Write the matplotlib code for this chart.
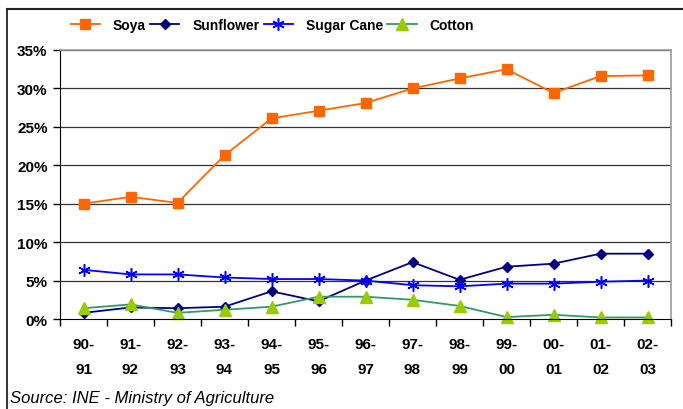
import matplotlib.pyplot as plt
from matplotlib.lines import Line2D
import numpy as np

plt.rcParams["font.family"] = ["Liberation Sans", "DejaVu Sans"]

seasons = ["90-\n91", "91-\n92", "92-\n93", "93-\n94", "94-\n95", "95-\n96", "96-\n97",
           "97-\n98", "98-\n99", "99-\n00", "00-\n01", "01-\n02", "02-\n03"]
soya = [15.0, 15.9, 15.1, 21.3, 26.1, 27.1, 28.1, 30.0, 31.3, 32.5, 29.4, 31.6, 31.7]
sunflower = [0.8, 1.5, 1.4, 1.6, 3.6, 2.3, 5.0, 7.4, 5.1, 6.8, 7.2, 8.5, 8.5]
sugar_cane = [6.4, 5.8, 5.8, 5.4, 5.2, 5.2, 5.0, 4.4, 4.25, 4.6, 4.6, 4.85, 5.0]
cotton = [1.4, 1.9, 0.8, 1.2, 1.6, 2.9, 2.9, 2.5, 1.7, 0.25, 0.55, 0.2, 0.2]

fig = plt.figure(figsize=(6.83, 4.10), dpi=100)
ax = fig.add_axes([60 / 683, 1 - 320 / 410, 611 / 683, 269 / 410])

x = np.arange(len(seasons))
ax.plot(x, soya, color="#FF6600", lw=1.3, marker="s", ms=6.5, mec="#FF6600",
        mfc="#FF6600", label="Soya", clip_on=False)
ax.plot(x, sunflower, color="#000080", lw=1.3, marker="D", ms=5, mec="#000080",
        mfc="#000080", label="Sunflower", clip_on=False)
ax.plot(x, sugar_cane, color="#0000FF", lw=1.3, marker=(6, 2, 0), ms=9, mew=1.1,
        mec="#0000FF", label="Sugar Cane", clip_on=False)
ax.plot(x, cotton, color="#339966", lw=1.3, marker="^", ms=8, mec="#99CC00",
        mfc="#99CC00", label="Cotton", clip_on=False)

ax.set_xlim(-0.5, len(seasons) - 0.5)
ax.set_ylim(0, 35)
ax.set_yticks(range(0, 36, 5))
ax.set_yticklabels([f"{v}%" for v in range(0, 36, 5)])
for v in range(5, 36, 5):
    ax.axhline(v, color="#333333", lw=0.9, zorder=0)

ax.set_xticks(x)
ax.set_xticklabels(seasons, linespacing=2.0)
ax.set_xticks(np.arange(-0.5, len(seasons)), minor=True)
ax.tick_params(axis="x", which="major", length=0, pad=13, labelsize=11)
ax.tick_params(axis="x", which="minor", length=5, direction="out", width=1)
ax.tick_params(axis="y", length=5, width=1, pad=4, labelsize=11)
for lbl in ax.get_xticklabels() + ax.get_yticklabels():
    lbl.set_fontweight("bold")

ax.spines["left"].set_color("black")
ax.spines["bottom"].set_color("black")
ax.spines["top"].set_color("#999999")
ax.spines["right"].set_color("#999999")
ax.spines["top"].set_linewidth(1.2)
ax.spines["right"].set_linewidth(1.2)

fig.legend(loc="center left", bbox_to_anchor=(58 / 683, 1 - 26 / 410), ncol=4,
           frameon=False, handlelength=2.1, handletextpad=0.95, columnspacing=0.3,
           prop={"weight": "bold", "size": 10})

fig.text(10 / 683, 1 - 399 / 410, "Source: INE - Ministry of Agriculture",
         fontsize=12, style="italic", va="center", ha="left")

# outer frame (top and left only, the rest is cut off)
fig.add_artist(Line2D([7 / 683, 7 / 683], [0, 1 - 10 / 410], color="#222222", lw=1.3,
                      transform=fig.transFigure))
fig.add_artist(Line2D([7 / 683, 1], [1 - 10 / 410, 1 - 10 / 410], color="#222222", lw=1.5,
                      transform=fig.transFigure))

fig.savefig("out.png", dpi=100)
